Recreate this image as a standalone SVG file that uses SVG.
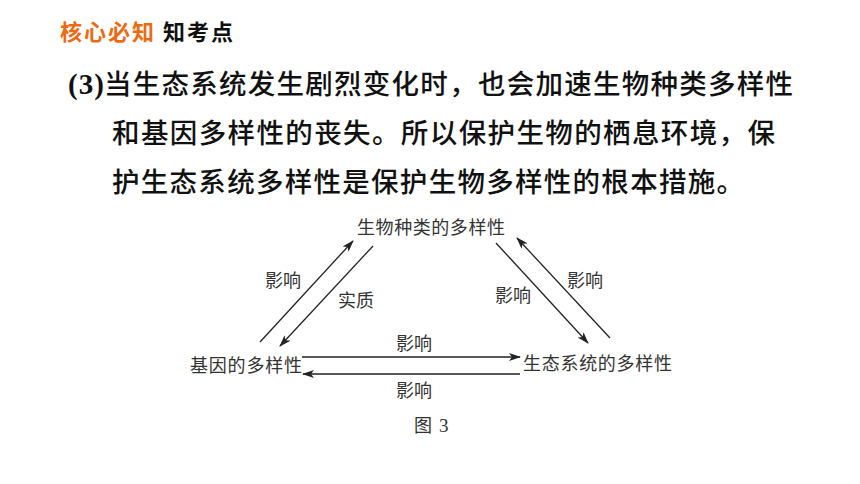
<svg xmlns="http://www.w3.org/2000/svg" width="860" height="484" viewBox="0 0 860 484">
<defs>
<marker id="ah" viewBox="0 0 12 8" refX="11" refY="4" markerWidth="12" markerHeight="8" markerUnits="userSpaceOnUse" orient="auto">
<path d="M0,0 L12,4 L0,8 L3,4 Z" fill="#222"/>
</marker>
<style>
.hd{font-family:"Noto Sans CJK SC","Noto Sans",sans-serif;font-size:22px;font-weight:bold}
.mt{font-family:"Noto Sans CJK SC","Noto Sans",sans-serif;font-size:27.5px;font-weight:500;fill:#111}
.num{font-family:"Liberation Serif",serif;font-size:29px;font-weight:bold;fill:#111}
.nd{font-family:"Noto Sans CJK SC",sans-serif;font-size:18px;fill:#333}
.lb{font-family:"Noto Sans CJK SC",sans-serif;font-size:18px;fill:#333}
.ln{stroke:#222;stroke-width:1.3;fill:none}
</style>
</defs>
<rect width="860" height="484" fill="#fff"/>
<text class="hd" x="60" y="40" fill="#EE6A12" textLength="94" lengthAdjust="spacing">核心必知</text>
<text class="hd" x="163" y="40" fill="#111" textLength="70" lengthAdjust="spacing">知考点</text>
<text class="num" x="68" y="94" textLength="36" lengthAdjust="spacing">(3)</text>
<text class="mt" x="104" y="94" textLength="689" lengthAdjust="spacing">当生态系统发生剧烈变化时，也会加速生物种类多样性</text>
<text class="mt" x="112" y="143" textLength="663" lengthAdjust="spacing">和基因多样性的丧失。所以保护生物的栖息环境，保</text>
<text class="mt" x="112" y="192" textLength="632" lengthAdjust="spacing">护生态系统多样性是保护生物多样性的根本措施。</text>
<g id="species"><text class="nd" x="357" y="234" textLength="148" lengthAdjust="spacing">生物种类的多样性</text></g>
<g id="gene"><text class="nd" x="190" y="372" textLength="112" lengthAdjust="spacing">基因的多样性</text></g>
<g id="ecosystem"><text class="nd" x="523" y="370" textLength="149" lengthAdjust="spacing">生态系统的多样性</text></g>
<g id="connectors">
<line class="ln" x1="260" y1="342" x2="353" y2="241" marker-end="url(#ah)"/>
<line class="ln" x1="373" y1="246" x2="280" y2="346" marker-end="url(#ah)"/>
<line class="ln" x1="302" y1="357" x2="520" y2="357" marker-end="url(#ah)"/>
<line class="ln" x1="520" y1="374" x2="303" y2="374" marker-end="url(#ah)"/>
<line class="ln" x1="496" y1="243" x2="588" y2="343" marker-end="url(#ah)"/>
<line class="ln" x1="610" y1="338" x2="517" y2="238" marker-end="url(#ah)"/>
<text class="lb" x="265" y="287">影响</text>
<text class="lb" x="338" y="307">实质</text>
<text class="lb" x="396" y="350">影响</text>
<text class="lb" x="396" y="397">影响</text>
<text class="lb" x="495" y="302">影响</text>
<text class="lb" x="567" y="287">影响</text>
</g>
<text class="lb" x="414" y="432">图</text>
<text x="439" y="432" font-family="Liberation Serif,serif" font-size="19" fill="#333">3</text>
</svg>
